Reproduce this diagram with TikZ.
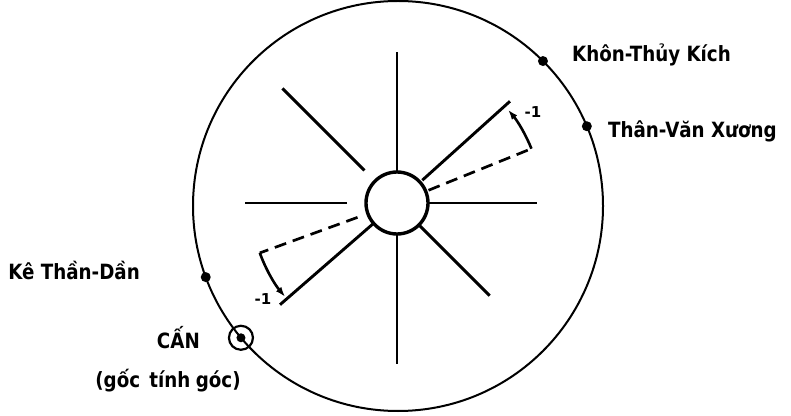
\documentclass[tikz,border=0pt]{standalone}
\usepackage{fontspec}
\setmainfont{DejaVu Sans}
\usetikzlibrary{arrows.meta}

\tikzset{
    spoke/.style={line width=2.9pt},
    dashspoke/.style={line width=2.7pt, dash pattern=on 12pt off 7pt},
    dot/.style={circle, fill, inner sep=0pt, minimum size=10pt},
    lbl/.style={font=\fontsize{21}{24}\selectfont\bfseries, inner sep=0pt, xscale=0.87, transform shape},
    small/.style={font=\fontsize{15}{17}\selectfont\bfseries, inner sep=0pt},
    turn/.style={line width=2.6pt, -{Latex[length=10pt,width=7pt]}},
}

\begin{document}
\begin{tikzpicture}[x=1pt,y=1pt]
        \useasboundingbox (0,0) rectangle (791,415);
        \coordinate (O) at (398,209);
        \coordinate (H) at (397,212);

        % rim and hub
        \draw[line width=2pt] (O) circle[radius=205pt];
        \node[circle, draw, line width=3.4pt, minimum size=62pt, inner sep=0pt] (hub) at (H) {};

        % spokes: angle/inner/outer
        \foreach \a/\ri/\ro in {90/31/151, 270/31/161, 180/50/152, 0/31/140,
                                135/46/162, -45/31/131, 42/34/152, 221/31/155}
            \draw[spoke] ([shift={(\a:\ri)}]H) -- ([shift={(\a:\ro)}]H);
        \foreach \a/\ri/\ro in {22/34/145, 200/42/146}
            \draw[dashspoke] ([shift={(\a:\ri)}]H) -- ([shift={(\a:\ro)}]H);

        % turns of -1
        \draw[turn] ([shift={(22:145)}]H) arc[start angle=22, end angle=40, radius=145pt];
        \draw[turn] ([shift={(200:146)}]H) arc[start angle=200, end angle=220, radius=146pt];
        \node[small] (upone) at (533,303) {-1};
        \node[small] (lowone) at (263,116) {-1};

        % points on the rim
        \node[dot] (khon) at ([shift={(45:205)}]O) {};
        \node[dot] (than) at ([shift={(22.9:205)}]O) {};
        \node[dot] (ke) at ([shift={(200.3:205)}]O) {};
        \node[dot, minimum size=9pt] (can) at ([shift={(220:205)}]O) {};
        \node[circle, draw, line width=2.2pt, minimum size=24pt, inner sep=0pt] (canring) at (can) {};

        % labels
        \node[lbl, anchor=base west] (khonlbl) at (572,353) {Khôn-Thủy Kích};
        \node[lbl, anchor=base west] (thanlbl) at (608,277) {Thân-Văn Xương};
        \node[lbl, anchor=base east] (kelbl) at (140,136) {Kê Thần-Dần};
        \node[lbl, anchor=base east] (canlbl) at (200,67) {CẤN};
        \node[lbl, anchor=base] (goclbl) at (168,28) {(gốc\hspace{0.5em}tính\hspace{0.3em}góc)};
    \end{tikzpicture}
\end{document}
